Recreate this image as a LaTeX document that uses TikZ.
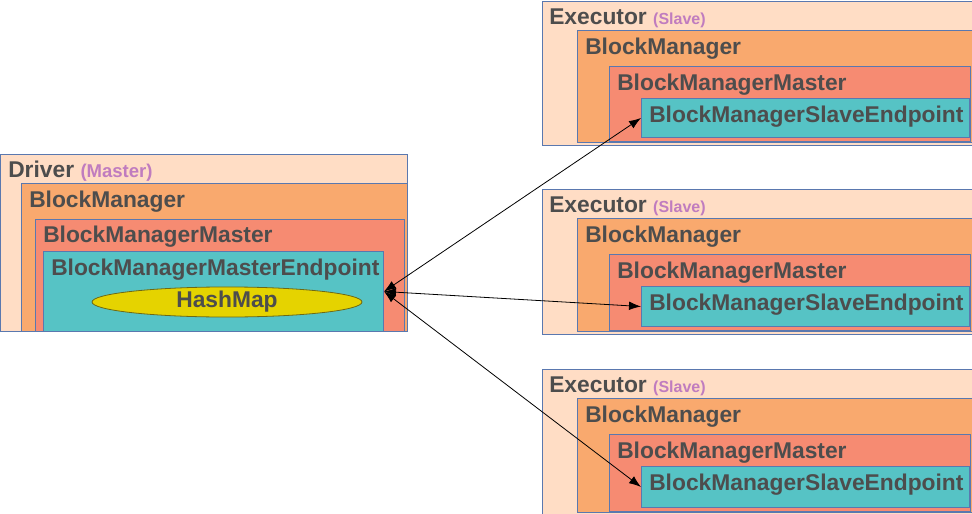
\documentclass[tikz,border=0pt]{standalone}
\usepackage{fontspec}
\setmainfont{Liberation Sans}
\usepackage{xcolor}
\usetikzlibrary{arrows.meta}
\usetikzlibrary{shapes.geometric}
\definecolor{mypeach}{RGB}{255,221,197}
\definecolor{myorange}{RGB}{249,169,110}
\definecolor{mysalmon}{RGB}{246,139,114}
\definecolor{myteal}{RGB}{86,195,197}
\definecolor{myyellow}{RGB}{229,211,0}
\definecolor{myolive}{RGB}{110,105,20}
\definecolor{myframe}{RGB}{90,120,175}
\definecolor{mytext}{RGB}{77,77,77}
\definecolor{mypurple}{RGB}{192,124,191}

\begin{document}
\begin{tikzpicture}[x=0.75pt, y=-0.75pt,
  layer/.style={draw=myframe, line width=0.75pt, anchor=north west, inner sep=0},
  lbl/.style={anchor=base west, inner sep=0, text=mytext, font=\fontsize{17.1}{20}\selectfont\bfseries},
  link/.style={{Latex[length=9pt,width=6.5pt]}-{Latex[length=9pt,width=6.5pt]}, line width=0.6pt}]

\useasboundingbox (0,0) rectangle (972,514);
\clip (0,0) rectangle (972,514);

% driver (master)
\node[layer, fill=mypeach, minimum width={407*0.75pt}, minimum height={(331-154)*0.75pt}] (driver) at (0,154) {};
\node[lbl] at ([shift={(8,23)}]driver.north west) {Driver \textcolor{mypurple}{\fontsize{13.9}{16}\selectfont(Master)}};

\node[layer, fill=myorange, minimum width={(407-21)*0.75pt}, minimum height={(331-183)*0.75pt}] (drvbm) at (21,183) {};
\node[lbl] at ([shift={(8,24)}]drvbm.north west) {BlockManager};

\node[layer, fill=mysalmon, minimum width={(404-35)*0.75pt}, minimum height={(331-219)*0.75pt}] (drvbmm) at (35,219) {};
\node[lbl] at ([shift={(8,23)}]drvbmm.north west) {BlockManagerMaster};

\node[layer, fill=myteal, minimum width={(383-43)*0.75pt}, minimum height={(331-251)*0.75pt}] (masterep) at (43,251) {};
\node[lbl] at ([shift={(8,24)}]masterep.north west) {BlockManagerMasterEndpoint};

\node[ellipse, draw=myolive, line width=0.6pt, fill=myyellow, minimum width={270*0.75pt}, minimum height={29*0.75pt}, inner sep=0,
  text=mytext, font=\fontsize{17.1}{20}\selectfont\bfseries] (hashmap) at (227,302) {HashMap};

% executors (slaves)
\foreach \i/\t/\b in {1/1/145, 2/189/334, 3/369/515}{
  \node[layer, fill=mypeach, minimum width={440*0.75pt}, minimum height={(\b-\t)*0.75pt}] (exec\i) at (542,\t) {};
  \node[lbl] at ([shift={(7,23)}]exec\i.north west) {Executor \textcolor{mypurple}{\fontsize{12}{14}\selectfont(Slave)}};

  \node[layer, fill=myorange, minimum width={(972-577)*0.75pt}, minimum height={(\b-\t-32)*0.75pt}] (execbm\i) at (577,\t+29) {};
  \node[lbl] at ([shift={(8,24)}]execbm\i.north west) {BlockManager};

  \node[layer, fill=mysalmon, minimum width={(970-609)*0.75pt}, minimum height={(\b-\t-69)*0.75pt}] (execbmm\i) at (609,\t+65) {};
  \node[lbl] at ([shift={(8,24)}]execbmm\i.north west) {BlockManagerMaster};

  \node[layer, fill=myteal, minimum width={(969-641)*0.75pt}, minimum height={(\b-\t-105)*0.75pt}] (slave\i) at (641,\t+97) {};
  \node[lbl] at ([shift={(8,24)}]slave\i.north west) {BlockManagerSlaveEndpoint};
}

% links
\foreach \i in {1,2,3}
  \draw[link] (masterep.east) -- (slave\i.west);

\end{tikzpicture}
\end{document}
